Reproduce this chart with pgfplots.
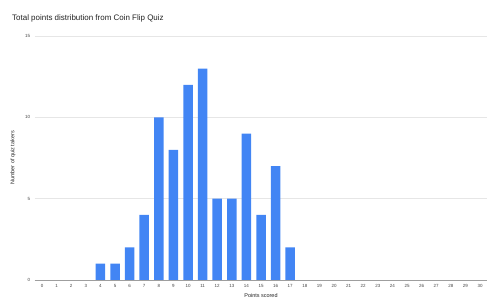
\documentclass[border=0pt]{standalone}
\usepackage{pgfplots}
\pgfplotsset{compat=1.18}
\usepackage{fontspec}
\setmainfont{Liberation Sans}
\definecolor{barblue}{HTML}{4285F4}
\definecolor{gridgray}{HTML}{E6E6E6}
\definecolor{axgray}{HTML}{9E9E9E}
\definecolor{ticktext}{HTML}{444444}
\definecolor{labtext}{HTML}{222222}
\begin{document}
\begin{tikzpicture}
\path[use as bounding box] (0,0) rectangle (498bp,307bp);
\begin{axis}[
  at={(34.7bp,27bp)}, anchor=south west, scale only axis,
  width=452.6bp, height=244bp,
  xmin=-0.5, xmax=30.5, ymin=0, ymax=15,
  ybar, bar width=9.5bp, bar shift=0pt,
  xtick={0,...,30}, ytick={0,5,10,15},
  ymajorgrids, grid style={gridgray, line width=0.5pt},
  axis x line*=bottom, axis y line*=left,
  y axis line style={draw=none},
  x axis line style={draw=axgray, line width=0.6pt, -},
  major tick length=0pt,
  /pgf/number format/assume math mode=true,
  tick label style={font=\fontsize{4.5}{5}\selectfont, text=ticktext},
  yticklabel style={xshift=-1bp},
  xticklabel style={yshift=-1bp},
  xlabel={Points scored},
  ylabel={Number of quiz takers},
  label style={font=\fontsize{5.5}{6.5}\selectfont, text=labtext},
  xlabel style={at={(axis description cs:0.5,0)}, anchor=center, yshift=-16bp},
  ylabel style={at={(axis description cs:0,0.5)}, anchor=center, rotate=0, yshift=21.7bp},
  clip=false,
]
\addplot[fill=barblue, draw=none] coordinates {
(4,1) (5,1) (6,2) (7,4) (8,10) (9,8) (10,12) (11,13) (12,5) (13,5) (14,9) (15,4) (16,7) (17,2)
};
\end{axis}
\node[anchor=west, font=\fontsize{8}{9.5}\selectfont, text=labtext, inner sep=0pt] at (12bp,288.5bp) {Total points distribution from Coin Flip Quiz};
\end{tikzpicture}
\end{document}
